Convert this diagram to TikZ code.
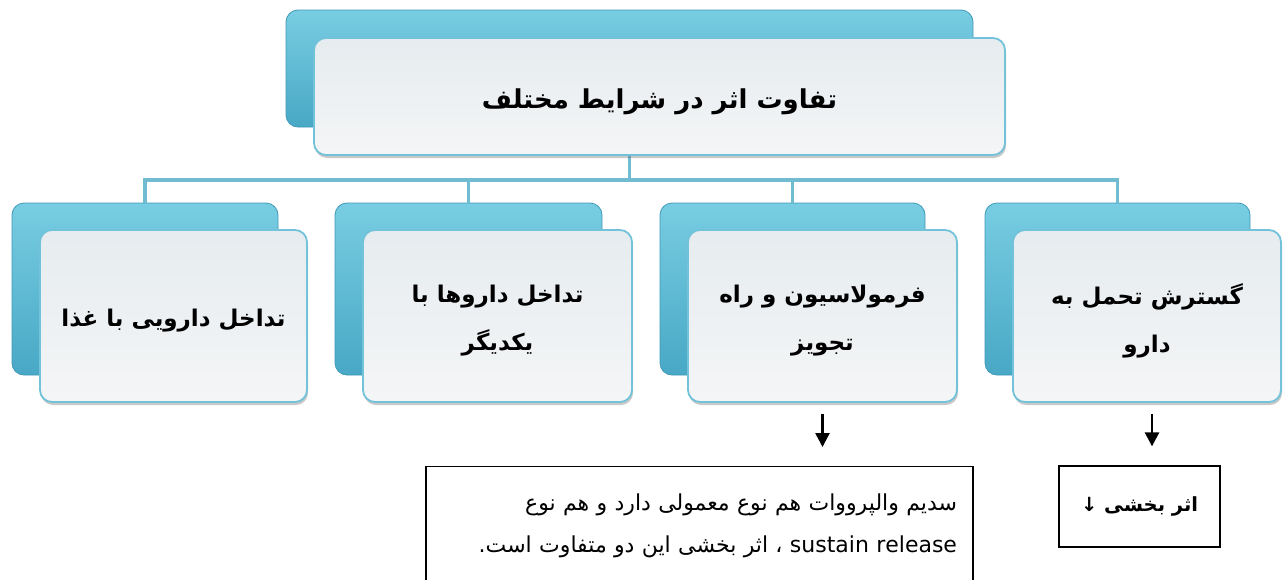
\documentclass[tikz,border=0pt]{standalone}
\usepackage{fontspec}
\setmainfont{Liberation Sans}
\newfontfamily\fa[Script=Arabic]{DejaVu Sans}
\TeXXeTstate=1
\usetikzlibrary{arrows.meta,shadows}

\definecolor{backtop}{HTML}{78CDE2}
\definecolor{backblue}{HTML}{48A8C5}
\definecolor{backedge}{HTML}{3E9AB8}
\definecolor{frontedge}{HTML}{72C2D9}
\definecolor{fronttop}{HTML}{E6ECEF}
\definecolor{frontbot}{HTML}{F4F5F6}
\definecolor{linkblue}{HTML}{72BCD2}

% card text lowered a little, keeping its nominal size for centring
\newcommand{\lowered}[1]{\raisebox{-5pt}[\height][\depth]{#1}}
\newcommand{\cardlines}[2]{\lowered{\parbox{250pt}{\centering
  \beginR #1\endR\\\beginR #2\endR}}}

\tikzset{
  backbox/.style={rectangle, rounded corners=12pt, draw=backedge, line width=0.8pt,
    top color=backtop, bottom color=backblue, inner sep=0pt},
  frontbox/.style={rectangle, rounded corners=12pt, draw=frontedge, line width=1.8pt,
    top color=fronttop, bottom color=frontbot, inner sep=0pt, align=center,
    drop shadow={shadow xshift=1pt, shadow yshift=-3pt, opacity=0.35, fill=black!60},
    font=\fa\bfseries\fontsize{23}{48}\selectfont},
  link/.style={draw=linkblue, line width=3.2pt},
  arr/.style={-{Triangle[length=14pt,width=14pt]}, line width=2.6pt, black},
  notebox/.style={rectangle, draw=black, line width=1.3pt, inner sep=0pt}
}

\begin{document}
\begin{tikzpicture}[x=1pt,y=-1pt]
\clip (0,0) rectangle (1283,579);
\fill[white] (0,0) rectangle (1283,579);

% back (blue) cards
\node[backbox, minimum width=687pt, minimum height=117pt] (tb) at (629.5,68.5) {};
\node[backbox, minimum width=266pt, minimum height=172pt] (b1) at (145,289) {};
\node[backbox, minimum width=267pt, minimum height=172pt] (b2) at (468.5,289) {};
\node[backbox, minimum width=265pt, minimum height=172pt] (b3) at (792.5,289) {};
\node[backbox, minimum width=265pt, minimum height=172pt] (b4) at (1117.5,289) {};

% connectors between the blue cards
\coordinate (bus) at (629.5,180);
\draw[link] (tb.south) -- (bus);
\draw[link] (b1.north) |- (bus) -| (b4.north);
\draw[link] (b2.north) -- (b2.north |- bus);
\draw[link] (b3.north) -- (b3.north |- bus);

% front (light) cards with the labels
\node[frontbox, minimum width=691pt, minimum height=117pt,
  font=\fa\bfseries\fontsize{26}{30}\selectfont] (tf) at (659.5,96.5)
  {\lowered{\beginR تفاوت اثر در شرایط مختلف\endR}};
\node[frontbox, minimum width=267pt, minimum height=172pt] (f1) at (173.5,316)
  {\lowered{\beginR تداخل دارویی با غذا\endR}};
\node[frontbox, minimum width=269pt, minimum height=172pt] (f2) at (497.5,316)
  {\cardlines{تداخل داروها با}{یکدیگر}};
\node[frontbox, minimum width=269pt, minimum height=172pt] (f3) at (822.5,316)
  {\cardlines{فرمولاسیون و راه}{تجویز}};
\node[frontbox, minimum width=268pt, minimum height=172pt] (f4) at (1147,316)
  {\cardlines{گسترش تحمل به}{دارو}};

% notes below
\node[notebox, anchor=north, minimum width=547pt, minimum height=118pt,
  text width=515pt, align=right, font=\fa\fontsize{22}{42}\selectfont] (n1) at (699.5,466)
  {\beginR سدیم والپرووات هم نوع معمولی دارد و هم نوع\endR\\
   \beginR\beginL sustain release\endL{} ، اثر بخشی این دو متفاوت است.\endR};
\node[notebox, minimum width=161pt, minimum height=81pt,
  font=\fa\bfseries\fontsize{19.5}{26}\selectfont] (n2) at (1139.5,506.5)
  {\beginR اثر بخشی ↓\endR};

% arrows from the cards to the notes
\draw[arr, shorten <=11pt, shorten >=19pt] (f3.south) -- (f3.south |- n1.north);
\draw[arr, shorten <=11pt, shorten >=19pt] ([xshift=5pt]f4.south) -- ([xshift=5pt]f4.south |- n2.north);
\end{tikzpicture}
\end{document}
